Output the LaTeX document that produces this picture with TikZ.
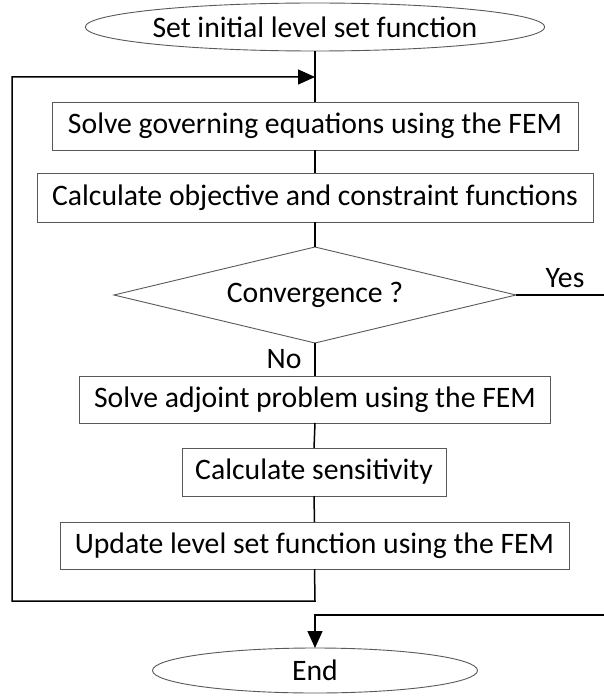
\documentclass[tikz,border=0pt]{standalone}
\usepackage{fontspec}
\setmainfont{Carlito}
\usetikzlibrary{shapes.geometric,arrows.meta}
\begin{document}
\begin{tikzpicture}[x=1pt,y=-1pt,
  every node/.style={font=\fontsize{29.7}{34}\selectfont, inner sep=0pt, outer sep=0pt},
  boxst/.style={draw=black!65, line width=0.9pt, rectangle, fill=white},
  termst/.style={draw=black!65, line width=0.9pt, ellipse, fill=white},
  diast/.style={draw=black!65, line width=0.9pt, diamond, aspect=4.1875, fill=white},
  conn/.style={draw=black, line width=1.5pt},
  tipst/.style={-{Triangle[length=17pt,width=15pt]}}]
\useasboundingbox (0,0) rectangle (604,698);
\node[termst, minimum width=406pt, minimum height=48pt] (start) at (315,27) {Set initial level set function};
\node[boxst, minimum width=526pt, minimum height=48pt] (b1) at (315,126) {Solve governing equations using the FEM};
\node[boxst, minimum width=556pt, minimum height=49pt] (b2) at (315,197.5) {Calculate objective and constraint functions};
\node[diast, minimum width=402pt, minimum height=96pt] (dia) at (315,295) {Convergence ?};
\node[boxst, minimum width=471pt, minimum height=47pt] (b3) at (315,399.5) {Solve adjoint problem using the FEM};
\node[boxst, minimum width=264pt, minimum height=48pt] (b4) at (314,472) {Calculate sensitivity};
\node[boxst, minimum width=509pt, minimum height=47pt] (b5) at (314.5,545.5) {Update level set function using the FEM};
\node[termst, minimum width=325pt, minimum height=45pt] (end) at (315,670.5) {End};
\node (yes) at (565,278) {Yes};
\node (no) at (284,359) {No};
\coordinate (join) at (315,77);
\coordinate (lb) at (315,601);
\coordinate (ll) at (12,601);
\coordinate (lt) at (12,77);
\coordinate (yr) at (604,295);
\coordinate (er) at (604,615);
\coordinate (ec) at (315,615);
\draw[conn] (start.south) -- (b1.north);
\draw[conn] (b1.south) -- (b2.north);
\draw[conn] (b2.south) -- (dia.north);
\draw[conn] (dia.south) -- (b3.north);
\draw[conn] (b3.south) -- (b4.north);
\draw[conn] (b4.south) -- (b5.north);
\draw[conn, tipst] (b5.south) -- (lb) -- (ll) -- (lt) -- (join);
\draw[conn] (dia.east) -- (yr);
\draw[conn, tipst] (er) -- (ec) -- (end.north);
\end{tikzpicture}
\end{document}
